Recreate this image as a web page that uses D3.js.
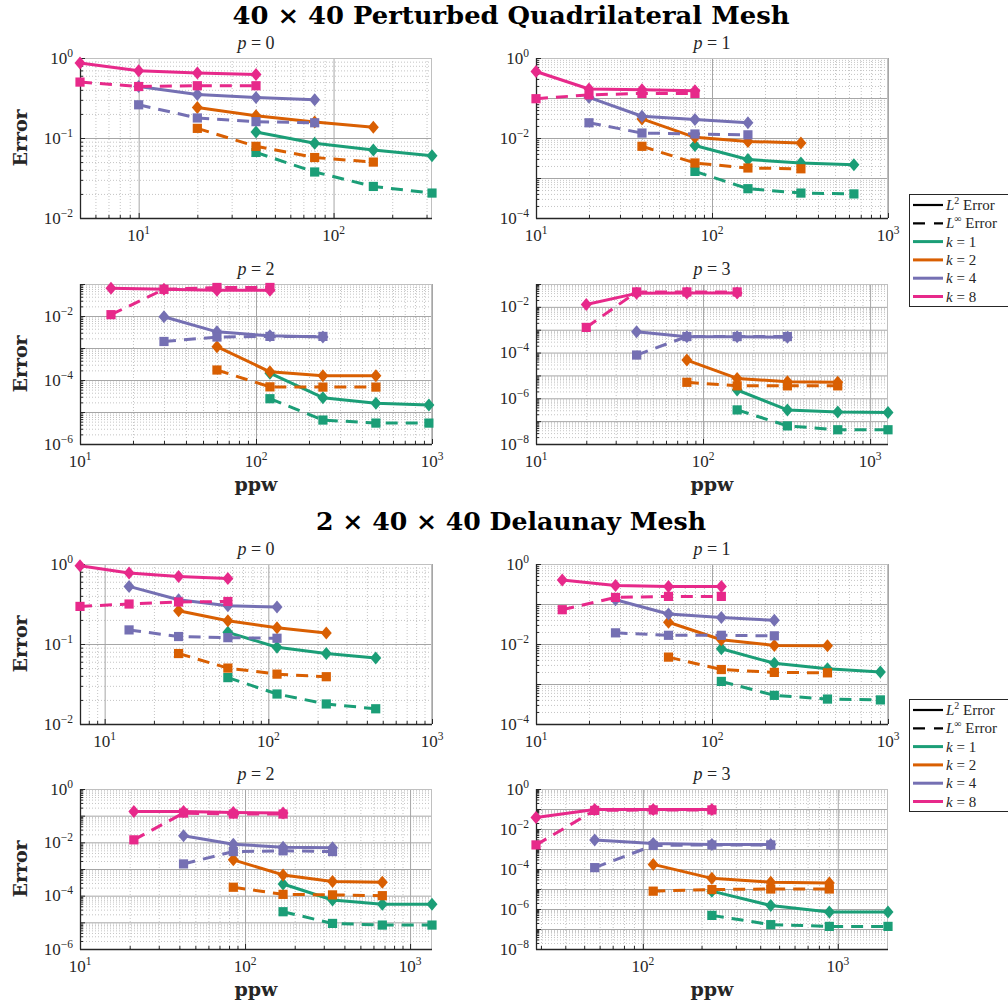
<!DOCTYPE html>
<html>
<head>
<meta charset="utf-8">
<script src="https://cdn.jsdelivr.net/npm/d3@7"></script>
<style>
  body { margin: 0; background: #fff; }
  svg { display: block; }
  text { font-family: "Liberation Serif", "DejaVu Serif", serif; fill: #262626; }
  .bold { font-family: "DejaVu Serif", "Liberation Serif", serif; font-weight: bold; }
  .grid-minor line { stroke: #c4c4c4; stroke-dasharray: 1,2; }
  .grid-major line { stroke: #a6a6a6; }
  .grid-minor path, .grid-major path, .ticks path { display: none; }
  .ticks line { stroke: #262626; }
</style>
</head>
<body>
<svg id="chart" width="1008" height="1007"></svg>
<script>
// series keys and colours (Dark2)
const kLabels = ['1', '2', '4', '8'];
const kColors = ['#1b9e77', '#d95f02', '#7570b3', '#e7298a'];
const kStart = [3, 2, 1, 0]; // k uses 4 consecutive ppw values starting here

// ppw values per panel
const quadPpw0 = [5, 10, 20, 40, 80, 160, 320];
const quadPpw1 = [10, 20, 40, 80, 160, 320, 640];
const quadPpw2 = [15, 30, 60, 120, 240, 480, 960];
const quadPpw3 = [20, 40, 80, 160, 320, 640, 1280];
const delPpw0 = [7.07, 14.1, 28.3, 56.6, 113, 226, 453];
const delPpw1 = [14.1, 28.3, 56.6, 113, 226, 453, 905];
const delPpw2 = [21.2, 42.4, 84.9, 170, 339, 679, 1358];
const delPpw3 = [28.3, 56.6, 113, 226, 453, 905, 1810];

// errors, rows = k = 1, 2, 4, 8
const quadL2_0 = [[0.119, 0.086, 0.071, 0.060], [0.24, 0.19, 0.158, 0.136], [0.44, 0.35, 0.32, 0.30], [0.866, 0.695, 0.65, 0.62]];
const quadLinf_0 = [[0.066, 0.0376, 0.0248, 0.0205], [0.132, 0.0787, 0.057, 0.050], [0.26, 0.178, 0.16, 0.155], [0.50, 0.44, 0.45, 0.45]];
const quadL2_1 = [[0.0065, 0.0029, 0.00237, 0.00215], [0.030, 0.0104, 0.0082, 0.0075], [0.104, 0.035, 0.029, 0.024], [0.46, 0.168, 0.16, 0.152]];
const quadLinf_1 = [[0.00146, 0.00054, 0.00042, 0.0004], [0.0062, 0.00237, 0.00178, 0.0017], [0.024, 0.0133, 0.0126, 0.012], [0.096, 0.12, 0.13, 0.13]];
const quadL2_2 = [[1.63e-4, 2.8e-5, 1.87e-5, 1.65e-5], [1.1e-3, 1.8e-4, 1.36e-4, 1.36e-4], [9.5e-3, 3.2e-3, 2.4e-3, 2.2e-3], [0.073, 0.068, 0.064, 0.064]];
const quadLinf_2 = [[2.6e-5, 5.6e-6, 4.5e-6, 4.5e-6], [2.05e-4, 6.1e-5, 6e-5, 6e-5], [1.6e-3, 2.2e-3, 2.3e-3, 2.3e-3], [0.011, 0.068, 0.078, 0.078]];
const quadL2_3 = [[2.3e-6, 3.1e-7, 2.5e-7, 2.4e-7], [4.7e-5, 7.4e-6, 5.3e-6, 5e-6], [8.1e-4, 4.9e-4, 4.9e-4, 4.7e-4], [0.0127, 0.039, 0.04, 0.04]];
const quadLinf_3 = [[3.1e-7, 6.2e-8, 4.2e-8, 4.2e-8], [5e-6, 3.5e-6, 3.5e-6, 3.5e-6], [7.8e-5, 5e-4, 5e-4, 5e-4], [1.26e-3, 0.045, 0.045, 0.045]];
const delL2_0 = [[0.14, 0.091, 0.076, 0.067], [0.26, 0.195, 0.16, 0.137], [0.525, 0.358, 0.30, 0.29], [0.95, 0.77, 0.70, 0.66]];
const delLinf_0 = [[0.038, 0.0237, 0.0178, 0.0155], [0.076, 0.05, 0.042, 0.039], [0.15, 0.124, 0.12, 0.118], [0.295, 0.316, 0.335, 0.34]];
const delL2_1 = [[0.0076, 0.0033, 0.0024, 0.002], [0.035, 0.0128, 0.0092, 0.009], [0.128, 0.056, 0.046, 0.039], [0.40, 0.29, 0.275, 0.275]];
const delLinf_1 = [[0.00116, 0.00052, 0.00042, 0.0004], [0.0047, 0.0023, 0.00195, 0.0019], [0.019, 0.0165, 0.0165, 0.016], [0.072, 0.146, 0.155, 0.155]];
const delL2_2 = [[2.75e-4, 6.9e-5, 4.8e-5, 4.8e-5], [2.2e-3, 6e-4, 3.4e-4, 3.2e-4], [0.0176, 0.0085, 0.0066, 0.0063], [0.144, 0.144, 0.132, 0.125]];
const delLinf_2 = [[2.5e-5, 9.1e-6, 7.9e-6, 7.9e-6], [2.07e-4, 1.12e-4, 1.07e-4, 1.0e-4], [1.55e-3, 4.5e-3, 4.8e-3, 4.5e-3], [0.0124, 0.125, 0.115, 0.115]];
const delL2_3 = [[7.8e-6, 1.5e-6, 7.1e-7, 7.1e-7], [1.7e-4, 3.4e-5, 2.2e-5, 2.0e-5], [2.8e-3, 1.87e-3, 1.7e-3, 1.7e-3], [0.038, 0.095, 0.095, 0.095]];
const delLinf_3 = [[4.8e-7, 1.65e-7, 1.35e-7, 1.35e-7], [7.8e-6, 9.4e-6, 1e-5, 1e-5], [1.17e-4, 1.5e-3, 1.6e-3, 1.6e-3], [1.6e-3, 0.085, 0.09, 0.09]];

const W = 352, H = 160;
const panels = [
  { p: '0', ppw: quadPpw0, l2: quadL2_0, linf: quadLinf_0, x: 80, y: 58, xd: [5, 320], yd: [1e-2, 1], ylab: true },
  { p: '1', ppw: quadPpw1, l2: quadL2_1, linf: quadLinf_1, x: 536, y: 58, xd: [10, 1000], yd: [1e-4, 1] },
  { p: '2', ppw: quadPpw2, l2: quadL2_2, linf: quadLinf_2, x: 80, y: 284, xd: [10, 1000], yd: [1e-6, 1e-1], ylab: true, xlab: true },
  { p: '3', ppw: quadPpw3, l2: quadL2_3, linf: quadLinf_3, x: 536, y: 284, xd: [10, 1280], yd: [1e-8, 1e-1], xlab: true },
  { p: '0', ppw: delPpw0, l2: delL2_0, linf: delLinf_0, x: 80, y: 564, xd: [7.07, 1000], yd: [1e-2, 1], ylab: true },
  { p: '1', ppw: delPpw1, l2: delL2_1, linf: delLinf_1, x: 536, y: 564, xd: [10, 1000], yd: [1e-4, 1] },
  { p: '2', ppw: delPpw2, l2: delL2_2, linf: delLinf_2, x: 80, y: 789, xd: [10, 1358], yd: [1e-6, 1], ylab: true, xlab: true },
  { p: '3', ppw: delPpw3, l2: delL2_3, linf: delLinf_3, x: 536, y: 789, xd: [28.3, 1810], yd: [1e-8, 1], xlab: true }
];

const svg = d3.select('#chart');
const diamond = 'M0,-6.5L5.5,0L0,6.5L-5.5,0Z';
const square = 'M-4.6,-4.6h9.2v9.2h-9.2Z';

function decades(d) {
  const lo = Math.ceil(Math.log10(d[0]) - 1e-9), hi = Math.floor(Math.log10(d[1]) + 1e-9);
  return d3.range(lo, hi + 1);
}
function minors(d) {
  const out = [];
  for (let e = Math.floor(Math.log10(d[0])); e <= Math.ceil(Math.log10(d[1])); e++) {
    for (let m = 2; m <= 9; m++) {
      const v = m * Math.pow(10, e);
      if (v >= d[0] && v <= d[1]) out.push(v);
    }
  }
  return out;
}
function powLabel(sel, e) {
  sel.append('tspan').style('font-size', '17px').text('10');
  sel.append('tspan').style('font-size', '11.5px').attr('dy', -7).text(String(e).replace('-', '\u2212'));
}

function drawPanel(pn) {
  const g = svg.append('g').attr('transform', `translate(${pn.x},${pn.y})`);
  const x = d3.scaleLog().domain(pn.xd).range([0, W]);
  const y = d3.scaleLog().domain(pn.yd).range([H, 0]);
  const xDec = decades(pn.xd), yDec = decades(pn.yd);
  const xMaj = xDec.map(e => Math.pow(10, e)), yMaj = yDec.map(e => Math.pow(10, e));

  // grid
  g.append('g').attr('class', 'grid-minor').attr('transform', `translate(0,${H})`)
    .call(d3.axisBottom(x).tickValues(minors(pn.xd)).tickSize(-H).tickFormat(''));
  g.append('g').attr('class', 'grid-minor')
    .call(d3.axisLeft(y).tickValues(minors(pn.yd)).tickSize(-W).tickFormat(''));
  g.append('g').attr('class', 'grid-major').attr('transform', `translate(0,${H})`)
    .call(d3.axisBottom(x).tickValues(xMaj).tickSize(-H).tickFormat(''));
  g.append('g').attr('class', 'grid-major')
    .call(d3.axisLeft(y).tickValues(yMaj).tickSize(-W).tickFormat(''));
  // light top / right edges
  g.append('line').attr('x1', 0).attr('x2', W).attr('y1', 0.5).attr('y2', 0.5).attr('stroke', '#c0c0c0');
  g.append('line').attr('x1', W - 0.5).attr('x2', W - 0.5).attr('y1', 0).attr('y2', H).attr('stroke', '#c0c0c0');

  // inward ticks
  g.append('g').attr('class', 'ticks').attr('transform', `translate(0,${H})`)
    .call(d3.axisBottom(x).tickValues(minors(pn.xd)).tickSize(-3).tickFormat(''));
  g.append('g').attr('class', 'ticks').attr('transform', `translate(0,${H})`)
    .call(d3.axisBottom(x).tickValues(xMaj).tickSize(-5).tickFormat(''));
  g.append('g').attr('class', 'ticks')
    .call(d3.axisLeft(y).tickValues(minors(pn.yd)).tickSize(-3).tickFormat(''));
  g.append('g').attr('class', 'ticks')
    .call(d3.axisLeft(y).tickValues(yMaj).tickSize(-5).tickFormat(''));
  g.append('line').attr('x1', 0.5).attr('x2', 0.5).attr('y1', 0).attr('y2', H + 0.5).attr('stroke', '#262626').attr('stroke-width', 1.3);
  g.append('line').attr('x1', 0).attr('x2', W).attr('y1', H + 0.5).attr('y2', H + 0.5).attr('stroke', '#262626').attr('stroke-width', 1.3);

  // tick labels
  xDec.forEach(e => {
    g.append('text').attr('x', x(Math.pow(10, e))).attr('y', H + 23).attr('text-anchor', 'middle').call(powLabel, e);
  });
  const every = (pn.yd[1] / pn.yd[0] > 1000) ? 2 : 1;
  yDec.filter(e => e % every === 0).forEach(e => {
    g.append('text').attr('x', -7).attr('y', y(Math.pow(10, e)) + 5.5).attr('text-anchor', 'end').call(powLabel, e);
  });

  // panel title
  const t = g.append('text').attr('x', W / 2).attr('y', -9).attr('text-anchor', 'middle').style('font-size', '18px');
  t.append('tspan').style('font-style', 'italic').text('p');
  t.append('tspan').text(' = ' + pn.p);

  if (pn.ylab) {
    g.append('text').attr('class', 'bold').attr('transform', `translate(-53,${H / 2}) rotate(-90)`).attr('text-anchor', 'middle')
      .style('font-size', '19px').text('Error');
  }
  if (pn.xlab) {
    g.append('text').attr('class', 'bold').attr('x', W / 2).attr('y', H + 47).attr('text-anchor', 'middle')
      .style('font-size', '19px').text('ppw');
  }

  // series
  const line = d3.line().x(d => x(d[0])).y(d => y(d[1]));
  kLabels.forEach((k, i) => {
    const xs = pn.ppw.slice(kStart[i], kStart[i] + 4);
    const l2 = xs.map((v, j) => [v, pn.l2[i][j]]);
    const li = xs.map((v, j) => [v, pn.linf[i][j]]);
    g.append('path').datum(l2).attr('d', line).attr('fill', 'none')
      .attr('stroke', kColors[i]).attr('stroke-width', 3).attr('stroke-linejoin', 'round');
    g.append('g').selectAll('path').data(l2).enter().append('path')
      .attr('d', diamond).attr('fill', kColors[i])
      .attr('transform', d => `translate(${x(d[0])},${y(d[1])})`);
    g.append('path').datum(li).attr('d', line).attr('fill', 'none')
      .attr('stroke', kColors[i]).attr('stroke-width', 3).attr('stroke-dasharray', '12,8');
    g.append('g').selectAll('path').data(li).enter().append('path')
      .attr('d', square).attr('fill', kColors[i])
      .attr('transform', d => `translate(${x(d[0])},${y(d[1])})`);
  });
}

function drawLegend(x0, y0) {
  const g = svg.append('g').attr('transform', `translate(${x0},${y0})`);
  g.append('rect').attr('x', 0.5).attr('y', 0.5).attr('width', 120).attr('height', 112).attr('fill', '#fff').attr('stroke', '#262626');
  const rows = [
    { color: '#000', dash: null, w: 2.2, label: 'L2' },
    { color: '#000', dash: '12,9', w: 2.2, label: 'Linf' }
  ].concat(kLabels.map((k, i) => ({ color: kColors[i], dash: null, w: 3, label: k })));
  rows.forEach((r, i) => {
    const yy = 11 + i * 18.3;
    g.append('line').attr('x1', 4).attr('x2', 34).attr('y1', yy).attr('y2', yy)
      .attr('stroke', r.color).attr('stroke-width', r.w).attr('stroke-dasharray', r.dash);
    const t = g.append('text').attr('x', 37).attr('y', yy + 5).style('font-size', '15px');
    if (r.label === 'L2' || r.label === 'Linf') {
      t.append('tspan').style('font-style', 'italic').text('L');
      t.append('tspan').attr('dy', -6).style('font-size', '10px').text(r.label === 'L2' ? '2' : '\u221e');
      t.append('tspan').attr('dy', 6).text(' Error');
    } else {
      t.append('tspan').style('font-style', 'italic').text('k');
      t.append('tspan').text(' = ' + r.label);
    }
  });
}

function suptitle(str, cx, yb, width) {
  svg.append('text').attr('class', 'bold').attr('x', cx).attr('y', yb).attr('text-anchor', 'middle')
    .attr('textLength', width).attr('lengthAdjust', 'spacingAndGlyphs')
    .style('font-size', '24px').style('fill', '#000').text(str);
}

suptitle('40 \u00d7 40 Perturbed Quadrilateral Mesh', 511, 24, 557);
suptitle('2 \u00d7 40 \u00d7 40 Delaunay Mesh', 511, 530, 390);
panels.forEach(drawPanel);
drawLegend(909, 194);
drawLegend(909, 699);
</script>
</body>
</html>
